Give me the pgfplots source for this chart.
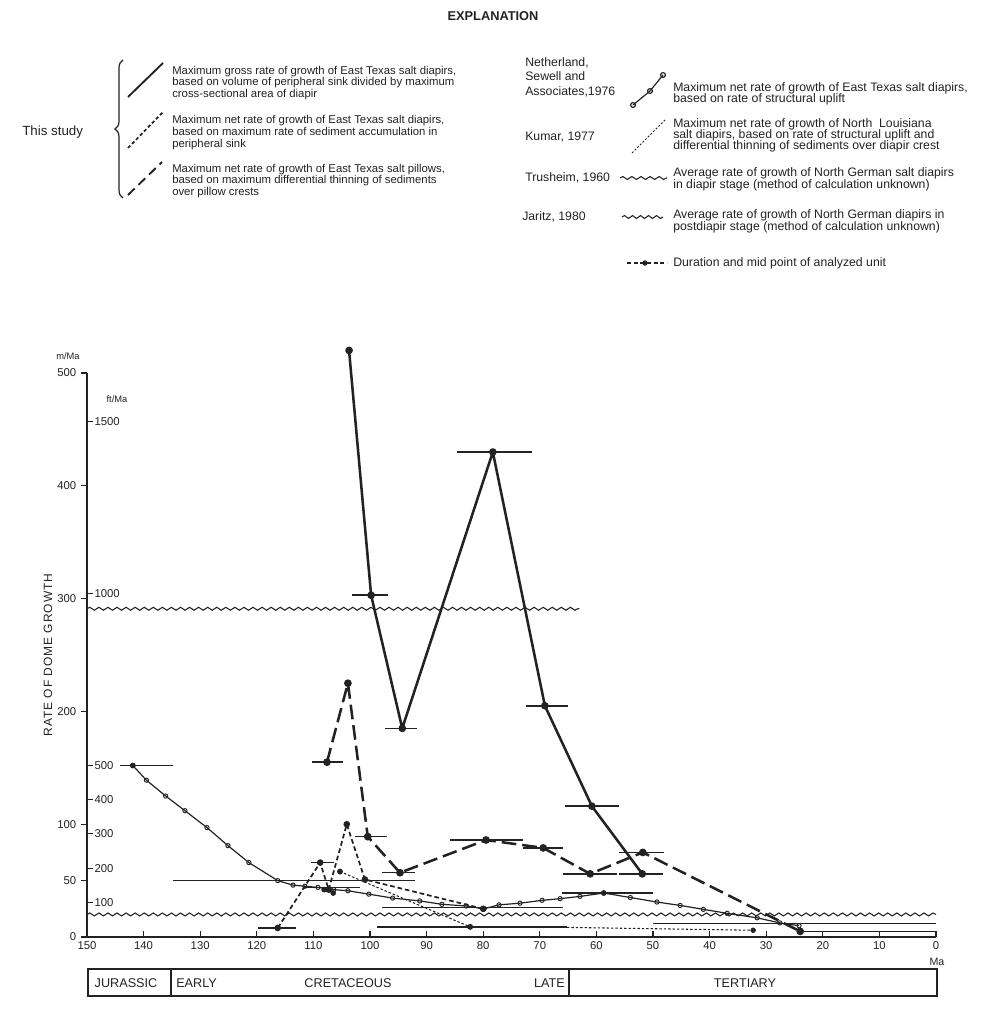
\documentclass[border=0pt]{standalone}
\usepackage{fontspec}
\setmainfont{Liberation Sans}
\usepackage{pgfplots}
\pgfplotsset{compat=1.18}
\usetikzlibrary{decorations.pathmorphing,decorations.pathreplacing}
\definecolor{ink}{HTML}{222222}
\newcommand{\fs}[1]{\fontsize{#1}{#1}\selectfont}
\pgfplotsset{
  dur/.style={ink, line width=1.1pt, no marks},
  wave/.style={ink, line width=0.8pt, no marks, decorate, decoration={snake, amplitude=1.1pt, segment length=6.8pt}},
}
\begin{document}
\begin{tikzpicture}
\useasboundingbox (0,0) rectangle (739.5pt,-759pt);
% ---------------- main chart ----------------
\begin{axis}[
  at={(65.25pt,-702.75pt)}, anchor=south west,
  scale only axis, width=636.75pt, height=423pt,
  x dir=reverse, xmin=0, xmax=150, ymin=0, ymax=500,
  axis x line=bottom, axis y line=left,
  axis line style={-, ink, line width=0.9pt},
  xtick={0,10,...,150}, ytick={0,50,100,200,300,400,500},
  xtick align=inside, ytick align=outside,
  major tick length=4.5pt,
  tick style={ink, line width=0.8pt},
  ticklabel style={font=\fs{8.5}, text=ink},
  /pgf/number format/assume math mode=true,
  clip=false, enlargelimits=false,
]
% wavy reference lines
\addplot[wave] coordinates {(150,291) (63,291)};
\addplot[wave] coordinates {(150,20) (0,20)};
% duration bars
\addplot[dur] coordinates {(144.2,152) (134.8,152)};
\addplot[dur] coordinates {(134.8,50) (92,50)};
\addplot[dur] coordinates {(111.8,44) (101.8,44)};
\addplot[dur] coordinates {(97.9,26) (65.9,26)};
\addplot[dur] coordinates {(66,39) (50,39)};
\addplot[dur] coordinates {(50,12) (0,12)};
\addplot[dur] coordinates {(24,5) (0,5)};
\addplot[dur] coordinates {(103.2,303) (96.8,303)};
\addplot[dur] coordinates {(97.3,185) (91.7,185)};
\addplot[dur] coordinates {(84.6,430) (71.4,430)};
\addplot[dur] coordinates {(72.5,205) (65,205)};
\addplot[dur] coordinates {(65.5,116) (56,116)};
\addplot[dur] coordinates {(56,56) (48.2,56)};
\addplot[dur] coordinates {(110.2,155) (104.8,155)};
\addplot[dur] coordinates {(102.7,89) (97,89)};
\addplot[dur] coordinates {(97.9,57) (92,57)};
\addplot[dur] coordinates {(85.9,86) (73,86)};
\addplot[dur] coordinates {(73,79) (65.9,79)};
\addplot[dur] coordinates {(65.9,56) (56.4,56)};
\addplot[dur] coordinates {(56,75) (48,75)};
\addplot[dur] coordinates {(119.8,8) (113,8)};
\addplot[dur] coordinates {(110.5,66) (106.3,66)};
\addplot[dur] coordinates {(98.8,9) (65.2,9)};
% Netherland, Sewell and Associates 1976
\addplot[ink, line width=0.9pt, mark=o, mark size=1.6pt, mark options={fill=white, line width=0.7pt}] coordinates {
(141.9,152) (139.5,139) (136.1,125) (132.7,112) (128.8,97) (125.1,81) (121.4,66) (116.3,50)
(113.6,46) (111.5,45) (109.2,44) (106.4,42) (103.9,41) (100.2,38) (96,34.5) (91.2,32)
(87.3,29) (83,27.5) (79.9,25) (77.2,28.5) (73.5,30) (69.6,32.5) (66.4,34) (62.9,36)
(58.7,39) (54,35) (49.3,31) (45.2,28) (41.1,24.5) (36.9,21) (31.6,17) (27.6,12.5) (24.2,10)};
\addplot[ink, only marks, mark=*, mark size=1.9pt] coordinates {(141.9,152) (79.9,25) (58.7,39) (108.1,42) (106.5,39)};
% Kumar 1977
\addplot[ink, line width=0.8pt, dash pattern=on 1.8pt off 1.5pt, mark=*, mark size=1.8pt, mark options={solid}] coordinates {(105.3,58) (82.3,9)};
\addplot[ink, line width=0.8pt, dash pattern=on 1.8pt off 1.5pt] coordinates {(82.3,9) (65,8.5) (32.3,6)};
\addplot[ink, only marks, mark=*, mark size=1.8pt] coordinates {(32.3,6)};
% This study: net rate, sediment accumulation
\addplot[ink, line width=1.3pt, dash pattern=on 3.5pt off 2.2pt, mark=*, mark size=1.8pt, mark options={solid}] coordinates {
(116.3,8) (108.8,66) (107.3,42) (104.1,100) (100.9,51) (80,25)};
% This study: pillows
\addplot[ink, line width=1.9pt, dash pattern=on 11pt off 4.5pt, mark=*, mark size=1.9pt, mark options={solid}] coordinates {
(107.6,155) (103.9,225) (100.4,89) (94.7,57) (79.5,86) (69.4,79) (61.1,56) (51.8,75) (24,5)};
% This study: gross rate
\addplot[ink, line width=1.9pt, line join=round, mark=*, mark size=1.9pt] coordinates {
(103.7,520) (99.8,303) (94.3,185) (78.3,430) (69.1,205) (60.8,116) (51.9,56)};
% ft/Ma scale
\draw[ink, line width=0.8pt] (axis cs:150,30.48) -- ++(4.5pt,0) node[anchor=west, inner sep=0.8pt, font=\fs{8.5}, text=ink] {100};
\draw[ink, line width=0.8pt] (axis cs:150,60.96) -- ++(4.5pt,0) node[anchor=west, inner sep=0.8pt, font=\fs{8.5}, text=ink] {200};
\draw[ink, line width=0.8pt] (axis cs:150,91.44) -- ++(4.5pt,0) node[anchor=west, inner sep=0.8pt, font=\fs{8.5}, text=ink] {300};
\draw[ink, line width=0.8pt] (axis cs:150,121.92) -- ++(4.5pt,0) node[anchor=west, inner sep=0.8pt, font=\fs{8.5}, text=ink] {400};
\draw[ink, line width=0.8pt] (axis cs:150,152.4) -- ++(4.5pt,0) node[anchor=west, inner sep=0.8pt, font=\fs{8.5}, text=ink] {500};
\draw[ink, line width=0.8pt] (axis cs:150,304.8) -- ++(4.5pt,0) node[anchor=west, inner sep=0.8pt, font=\fs{8.5}, text=ink] {1000};
\draw[ink, line width=0.8pt] (axis cs:150,457.2) -- ++(4.5pt,0) node[anchor=west, inner sep=0.8pt, font=\fs{8.5}, text=ink] {1500};
\end{axis}
% ---------------- legend samples (overlay, pixel units) ----------------
\begin{axis}[
  at={(0pt,0pt)}, anchor=north west,
  scale only axis, width=739.5pt, height=759pt,
  xmin=0, xmax=986, ymin=0, ymax=1012, y dir=reverse,
  hide axis, clip=false, enlargelimits=false,
]
\addplot[ink, line width=1.4pt] coordinates {(128,97) (163,63)};
\addplot[ink, line width=1.3pt, dash pattern=on 2.5pt off 1.8pt] coordinates {(128,148) (163,112)};
\addplot[ink, line width=1.4pt, dash pattern=on 7pt off 4pt] coordinates {(128,195) (162,162)};
\addplot[ink, line width=0.9pt, mark=o, mark size=1.8pt, mark options={fill=white}] coordinates {(633,105) (650,91) (663,75)};
\addplot[ink, line width=0.7pt, dash pattern=on 1.5pt off 1.3pt] coordinates {(632,153) (665,120)};
\addplot[wave] coordinates {(620,178) (667,178)};
\addplot[ink, line width=0.8pt, no marks, decorate, decoration={snake, amplitude=1.1pt, segment length=6pt}] coordinates {(622,217) (663,217)};
\addplot[ink, line width=0.8pt, dash pattern=on 3pt off 2pt] coordinates {(627,263) (667,263)};
\addplot[ink, only marks, mark=*, mark size=1.8pt] coordinates {(645,263)};
\end{axis}
% ---------------- texts (pixel units) ----------------
\begin{scope}[x=0.75pt, y=-0.75pt, every node/.style={inner sep=0pt, text=ink}]
\node[font=\bfseries\fs{9.6}] at (493,16) {EXPLANATION};
\node[font=\fs{10}, anchor=base west] at (22,136) {This study};
\draw[ink, line width=0.9pt, decorate, decoration={brace, amplitude=6pt}] (123,198) -- (123,60);
\begin{scope}[every node/.append style={font=\fs{8.5}, anchor=base west}]
\node at (172,74.5) {Maximum gross rate of growth of East Texas salt diapirs,};
\node at (172,86) {based on volume of peripheral sink divided by maximum};
\node at (172,97.5) {cross-sectional area of diapir};
\node at (172,124) {Maximum net rate of growth of East Texas salt diapirs,};
\node at (172,136) {based on maximum rate of sediment accumulation in};
\node at (172,147.5) {peripheral sink};
\node at (172,172.5) {Maximum net rate of growth of East Texas salt pillows,};
\node at (172,184) {based on maximum differential thinning of sediments};
\node at (172,196) {over pillow crests};
\end{scope}
\begin{scope}[every node/.append style={font=\fs{9.2}, anchor=base west}]
\node at (673,91.5) {Maximum net rate of growth of East Texas salt diapirs,};
\node at (673,103) {based on rate of structural uplift};
\node at (673,127.5) {Maximum net rate of growth of North\ \ Louisiana};
\node at (673,138.5) {salt diapirs, based on rate of structural uplift and};
\node at (673,149.5) {differential thinning of sediments over diapir crest};
\node at (673,177) {Average rate of growth of North German salt diapirs};
\node at (673,189) {in diapir stage (method of calculation unknown)};
\node at (673,218.5) {Average rate of growth of North German diapirs in};
\node at (673,230.5) {postdiapir stage (method of calculation unknown)};
\node at (673,266.5) {Duration and mid point of analyzed unit};
\node at (525,67) {Netherland,};
\node at (525,80.5) {Sewell and};
\node at (525,95.5) {Associates,1976};
\node at (525,141) {Kumar, 1977};
\node at (525,182) {Trusheim, 1960};
\node at (522,221) {Jaritz, 1980};
\end{scope}
% axis annotations
\node[font=\fs{7}] at (68,356) {m/Ma};
\node[font=\fs{7}] at (117,399) {ft/Ma};
\node[font=\fs{9}, rotate=90] at (48,655) {\addfontfeature{LetterSpace=8}RATE OF DOME GROWTH};
\node[font=\fs{8}] at (937,962) {Ma};
% geologic time scale
\draw[ink, line width=0.9pt] (88,969) rectangle (937,996);
\draw[ink, line width=0.9pt] (171,969) -- (171,996);
\draw[ink, line width=0.9pt] (569,969) -- (569,996);
\begin{scope}[every node/.append style={font=\fs{9.5}}]
\node at (126,983) {JURASSIC};
\node[anchor=west] at (176,983) {EARLY};
\node at (348,983) {CRETACEOUS};
\node[anchor=east] at (565,983) {LATE};
\node at (745,983) {TERTIARY};
\end{scope}
\end{scope}
\end{tikzpicture}
\end{document}
